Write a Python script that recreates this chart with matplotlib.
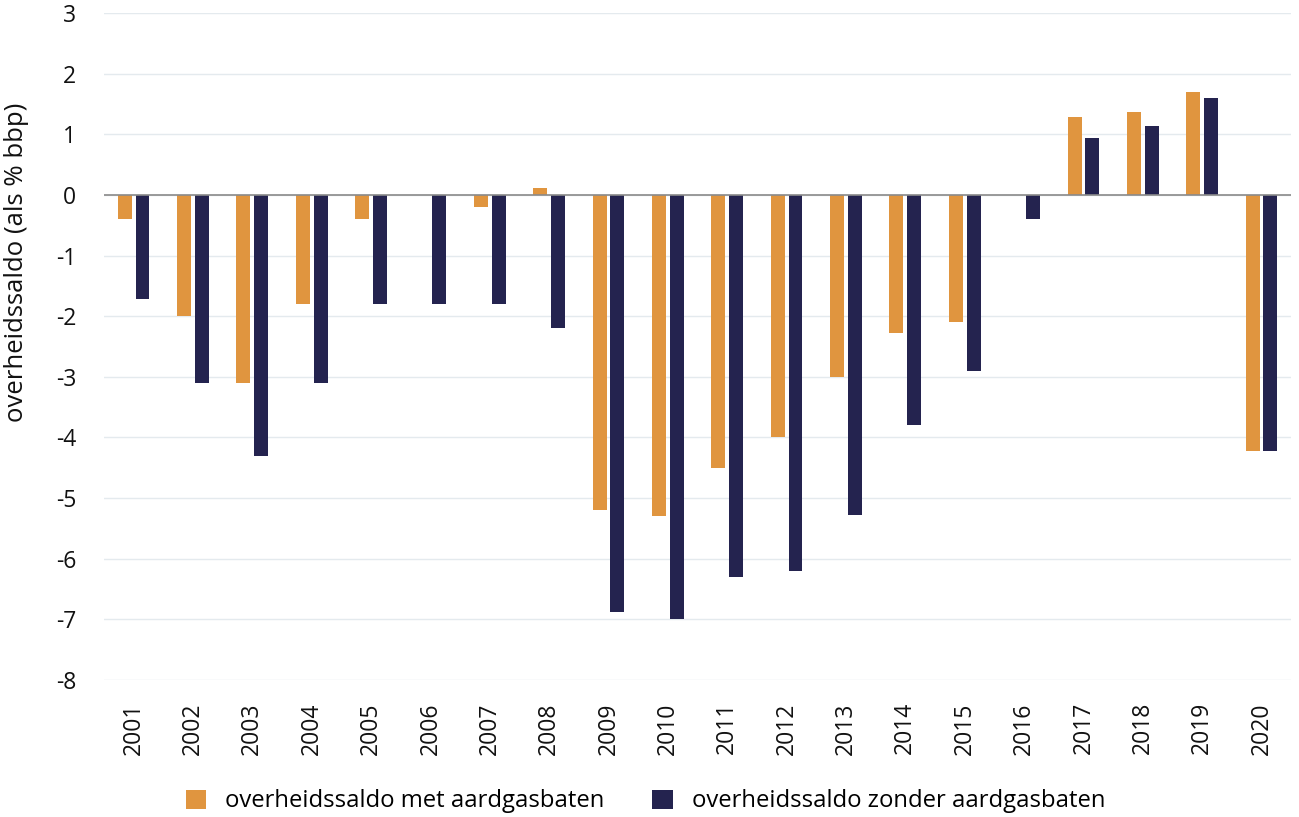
import matplotlib.pyplot as plt
import numpy as np

plt.rcParams['font.family'] = ['Open Sans', 'DejaVu Sans']

jaren = [str(j) for j in range(2001, 2021)]
met_aardgas = [-0.4, -2.0, -3.1, -1.8, -0.4, 0.0, -0.2, 0.12, -5.2, -5.3,
               -4.5, -4.0, -3.0, -2.27, -2.1, 0.0, 1.28, 1.37, 1.69, -4.22]
zonder_aardgas = [-1.72, -3.1, -4.3, -3.1, -1.8, -1.8, -1.8, -2.2, -6.88, -7.0,
                  -6.3, -6.2, -5.28, -3.8, -2.9, -0.4, 0.94, 1.13, 1.6, -4.22]

oranje = '#e0953f'
navy = '#24234f'

fig = plt.figure(figsize=(12.99, 8.17), dpi=100)
ax = fig.add_axes([0.080, 0.1677, 0.914, 0.8163])

x = np.arange(len(jaren))
w = 0.235
ax.bar(x - 0.15, met_aardgas, w, color=oranje, label='overheidssaldo met aardgasbaten', zorder=2)
ax.bar(x + 0.15, zonder_aardgas, w, color=navy, label='overheidssaldo zonder aardgasbaten', zorder=2)

ax.set_xlim(-0.5, len(jaren) - 0.5)
ax.set_ylim(-8, 3)
ax.set_yticks(range(-8, 4))
ax.set_yticklabels([str(v) for v in range(-8, 4)])
ax.set_xticks(x)
ax.set_xticklabels(jaren, rotation=90)
ax.tick_params(axis='both', length=0, labelsize=16.5, colors='#111111')
ax.tick_params(axis='y', pad=20)
ax.tick_params(axis='x', pad=16)

ax.grid(axis='y', color='#e4eaee', linewidth=1, zorder=0)
ax.axhline(0, color='#8a8a8a', linewidth=1.2, zorder=3)
for s in ax.spines.values():
    s.set_visible(False)

ax.set_ylabel('overheidssaldo (als % bbp)', fontsize=18.5, color='#111111')
ax.yaxis.set_label_coords(-0.063, 0.627)

fig.legend(loc='lower center', bbox_to_anchor=(0.497, -0.022), ncol=2, frameon=False,
           fontsize=17.2, handlelength=0.85, handleheight=0.85, columnspacing=2.0,
           handletextpad=0.8)

fig.savefig('out.png', dpi=100)
